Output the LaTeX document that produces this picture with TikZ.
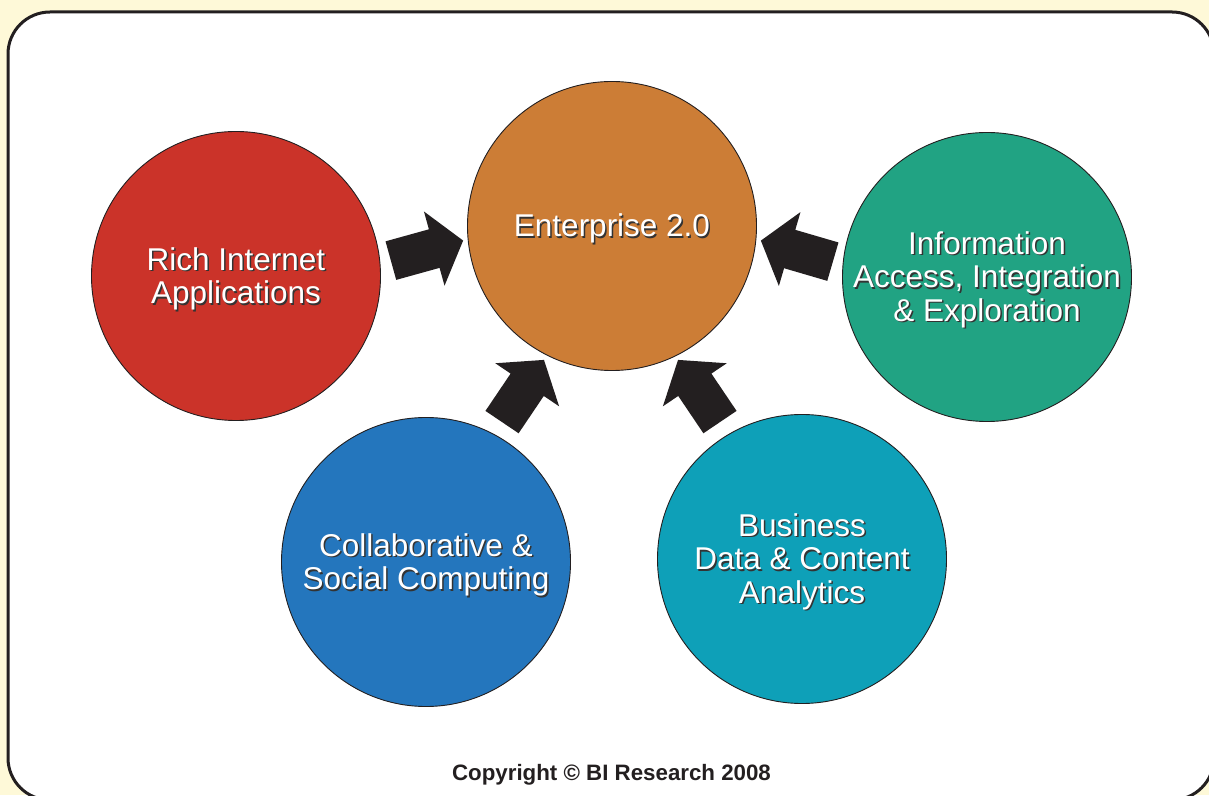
\documentclass[tikz,border=0pt]{standalone}
\usepackage{fontspec}
\setmainfont{Liberation Sans}
\usetikzlibrary{calc}

\definecolor{paper}{HTML}{FEF9D8}
\definecolor{ink}{HTML}{231F20}
\definecolor{richred}{HTML}{CB3329}
\definecolor{entorange}{HTML}{CC7D36}
\definecolor{infogreen}{HTML}{21A383}
\definecolor{collabblue}{HTML}{2476BD}
\definecolor{bizteal}{HTML}{0EA0B8}

% white caption with a soft dark drop shadow
\newcommand\bubblecaption[2]{%
  \node[captionshadow] at ($(#1)+(1.5,-4.3)$) {#2};
  \node[caption] (#1-text) at ($(#1)+(0,-2.8)$) {#2};
}

\begin{document}
\begin{tikzpicture}[x=1pt,y=1pt,
  bubble/.style={circle, draw=ink, line width=0.9pt, minimum size=289pt, inner sep=0pt},
  caption/.style={text=white, align=center, inner sep=0pt,
                  font=\fontsize{31.5}{33.5}\selectfont},
  captionshadow/.style={caption, text=black!80},
  pics/blockarrow/.style={code={
    \fill[ink] (-37.5,-20) -- (7.5,-20) -- (7.5,-38.5) -- (37.5,0)
               -- (7.5,38.5) -- (7.5,20) -- (-37.5,20) -- cycle;}}
]
\useasboundingbox (0,0) rectangle (1209,795);
\clip (0,0) rectangle (1209,795);

% page background and framed panel
\fill[paper] (0,0) rectangle (1209,795);
\draw[ink, line width=3pt, fill=white, rounded corners=42pt]
  (8,783) rectangle (1214,-5);

% the five topic bubbles
\node[bubble, fill=richred]    (rich)   at (236,519) {};
\node[bubble, fill=entorange]  (ent)    at (612,569) {};
\node[bubble, fill=infogreen]  (info)   at (987,518) {};
\node[bubble, fill=collabblue] (collab) at (426,233) {};
\node[bubble, fill=bizteal]    (biz)    at (802,236) {};

\bubblecaption{rich}{Rich Internet\\Applications}
\bubblecaption{ent}{Enterprise 2.0}
\bubblecaption{info}{Information\\Access, Integration\\\& Exploration}
\bubblecaption{collab}{Collaborative \&\\Social Computing}
\bubblecaption{biz}{Business\\Data \& Content\\Analytics}

% block arrows feeding Enterprise 2.0
\pic[rotate=15.5]  at ($(rich)!0.508!(ent)$) {blockarrow};
\pic[rotate=163.7] at ($(info)!0.507!(ent)$) {blockarrow};
\pic[rotate=56]    at ($(collab)!0.5!(ent)+(4,3)$) {blockarrow};
\pic[rotate=124]   at ($(biz)!0.5!(ent)+(-8,1.5)$) {blockarrow};

% footer
\node[font=\fontsize{22.3}{26}\selectfont\bfseries, text=ink, anchor=base, inner sep=0pt]
  (copyright) at (611.5,15) {Copyright © BI Research 2008};
\end{tikzpicture}
\end{document}
